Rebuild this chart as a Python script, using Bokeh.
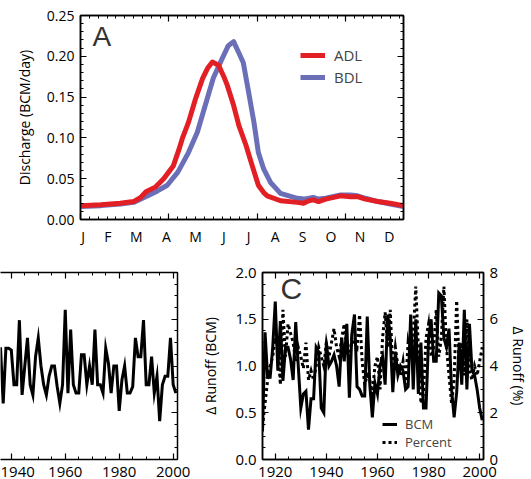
from bokeh.plotting import figure
from bokeh.models import (LinearAxis, Range1d, FixedTicker, SingleIntervalTicker,
                          Legend, LegendItem, Label, NumeralTickFormatter)
from bokeh.layouts import column, row
from bokeh.embed import file_html
from bokeh.resources import INLINE

FONT = "Open Sans"

# ---------------- Panel A data: mean daily discharge (BCM/day) ----------------
adl_day = [0, 23, 45, 60, 68, 74, 85, 94, 105, 111, 115, 122, 130, 138, 144, 149,
           156, 162, 166, 173, 179, 187, 194, 201, 207, 211, 226, 245, 252, 258,
           263, 269, 277, 294, 305, 313, 322, 336, 350, 365]
adl_q = [0.017, 0.018, 0.020, 0.022, 0.027, 0.034, 0.040, 0.050, 0.066, 0.085,
         0.099, 0.119, 0.148, 0.173, 0.186, 0.193, 0.189, 0.175, 0.164, 0.140,
         0.115, 0.091, 0.066, 0.042, 0.033, 0.029, 0.023, 0.021, 0.020, 0.023,
         0.024, 0.022, 0.025, 0.029, 0.028, 0.028, 0.025, 0.022, 0.020, 0.017]
bdl_day = [0, 23, 45, 60, 76, 87, 98, 110, 122, 132, 141, 150, 160, 167, 173, 179,
           184, 190, 196, 201, 207, 215, 226, 245, 252, 258, 263, 269, 277, 294,
           305, 313, 322, 336, 350, 365]
bdl_q = [0.016, 0.017, 0.019, 0.021, 0.029, 0.035, 0.042, 0.058, 0.082, 0.107,
         0.140, 0.173, 0.197, 0.213, 0.218, 0.204, 0.192, 0.156, 0.119, 0.082,
         0.062, 0.045, 0.032, 0.026, 0.025, 0.026, 0.027, 0.025, 0.026, 0.030,
         0.030, 0.029, 0.026, 0.022, 0.019, 0.016]
month_labels = ["J", "F", "M", "A", "M", "J", "J", "A", "S", "O", "N", "D"]
month_pos = [3, 31, 63, 97, 130, 162, 190, 220, 251, 283, 316, 349]

# ---------------- Panel B data ----------------
b_years = list(range(1936, 2002))
b_vals = [1.2, 0.6, 1.19, 1.19, 1.17, 0.8, 0.8, 1.49, 0.69, 1.0,
          1.3, 0.8, 0.69, 1.1, 1.3, 1.0, 0.8, 0.69, 0.89, 1.0,
          1.0, 0.78, 0.6, 0.8, 1.6, 0.71, 1.39, 0.8, 0.71, 0.71,
          1.12, 1.12, 0.8, 1.0, 0.8, 1.39, 0.8, 0.8, 0.71, 1.19,
          1.03, 0.71, 1.0, 1.0, 0.52, 0.85, 1.0, 0.71, 0.71, 0.78,
          1.3, 1.1, 1.1, 1.49, 0.8, 0.8, 1.1, 0.71, 0.89, 0.41,
          0.8, 0.89, 0.89, 1.3, 0.8, 0.71]

# ---------------- Panel C data ----------------
c_years = list(range(1915, 2002))
c_bcm = [0.3, 1.36, 0.88, 0.88, 1.2, 1.69, 0.95, 1.48, 0.84, 1.2,
         1.2, 1.07, 0.85, 1.47, 1.0, 0.55, 0.7, 0.73, 0.32, 0.65,
         0.65, 1.2, 1.15, 0.55, 0.5, 1.25, 1.0, 1.05, 1.12, 1.0,
         0.78, 1.3, 1.05, 1.45, 0.66, 1.35, 1.55, 0.78, 0.75, 0.68,
         0.68, 1.53, 0.8, 0.45, 0.82, 0.7, 1.0, 1.1, 0.8, 1.55,
         1.3, 0.72, 1.15, 0.9, 1.0, 0.95, 0.75, 0.78, 1.55, 0.75,
         1.5, 0.7, 1.25, 0.55, 0.55, 1.3, 1.5, 1.05, 1.05, 1.78,
         1.75, 1.3, 1.2, 1.4, 0.75, 0.45, 0.72, 1.25, 0.8, 1.6,
         0.75, 1.45, 0.95, 0.9, 0.75, 0.55, 0.42]
c_pct = [1.4, 2.4, 3.4, 4.0, 4.4, 5.2, 4.8, 3.2, 6.4, 4.4,
         5.8, 5.4, 5.0, 4.2, 4.8, 4.4, 3.9, 5.0, 3.4, 3.8,
         3.4, 4.0, 4.8, 4.4, 4.0, 5.0, 4.4, 5.0, 5.6, 4.8,
         4.4, 5.2, 5.8, 4.8, 4.4, 5.2, 5.0, 4.8, 6.2, 4.2,
         3.2, 3.6, 3.4, 2.8, 4.0, 4.4, 3.0, 5.2, 6.3, 4.8,
         6.4, 3.8, 4.8, 4.0, 3.6, 4.2, 3.2, 5.0, 4.4, 5.4,
         7.4, 4.8, 2.4, 2.8, 5.2, 5.8, 4.4, 4.8, 6.4, 4.4,
         5.2, 7.4, 4.8, 3.6, 2.4, 3.4, 6.8, 4.0, 5.0, 3.6,
         6.0, 3.8, 3.4, 4.0, 3.6, 4.2, 4.8]

RED = "#e31f26"
BLUE = "#6b6fb7"


def style_axis(ax, size="14px", labels=True):
    ax.axis_line_width = 1.5
    ax.axis_line_color = "black"
    ax.major_tick_in = 6
    ax.major_tick_out = 0
    ax.minor_tick_in = 3
    ax.minor_tick_out = 0
    ax.major_tick_line_width = 1.2
    ax.minor_tick_line_width = 1
    ax.major_tick_line_color = "black"
    ax.minor_tick_line_color = "black"
    ax.major_label_text_font = FONT
    ax.axis_label_text_font = FONT
    ax.axis_label_text_font_style = "normal"
    ax.axis_label_text_color = "black"
    ax.axis_label_text_font_size = size
    if labels:
        ax.major_label_text_color = "black"
        ax.major_label_text_font_size = size
        ax.major_label_standoff = 6
    else:
        ax.major_label_text_color = None
        ax.major_label_text_font_size = "0px"
        ax.major_label_standoff = 0


# ---------------- Panel A ----------------
pA = figure(width=423, height=255, x_range=Range1d(0, 365), y_range=Range1d(0, 0.25),
            output_backend="svg", toolbar_location=None,
            x_axis_type=None, y_axis_type=None,
            min_border_left=80, min_border_right=20, min_border_top=15, min_border_bottom=36)
pA.grid.visible = False
pA.outline_line_color = "black"
pA.outline_line_width = 1.5

yt = SingleIntervalTicker(interval=0.05, num_minor_ticks=5)
xt = SingleIntervalTicker(interval=100, num_minor_ticks=10)

axL = LinearAxis(ticker=yt, formatter=NumeralTickFormatter(format="0.00"),
                 axis_label="Discharge (BCM/day)")
style_axis(axL)
axL.axis_label_standoff = 10
pA.add_layout(axL, "left")
axR = LinearAxis(ticker=yt)
style_axis(axR, labels=False)
pA.add_layout(axR, "right")
axT = LinearAxis(ticker=xt)
style_axis(axT, labels=False)
pA.add_layout(axT, "above")
axB = LinearAxis(ticker=xt)
style_axis(axB, labels=False)
pA.add_layout(axB, "below")
axM = LinearAxis(ticker=FixedTicker(ticks=month_pos),
                 major_label_overrides={p: l for p, l in zip(month_pos, month_labels)})
style_axis(axM)
axM.axis_line_color = None
axM.major_tick_in = 0
axM.minor_tick_in = 0
axM.major_label_standoff = 7
pA.add_layout(axM, "below")

blue_r = pA.line(bdl_day, bdl_q, line_color=BLUE, line_width=5, line_join="round")
red_r = pA.line(adl_day, adl_q, line_color=RED, line_width=5, line_join="round")

legA = Legend(items=[LegendItem(label="ADL", renderers=[red_r]),
                     LegendItem(label="BDL", renderers=[blue_r])],
              location=(220, 132), background_fill_alpha=0, border_line_alpha=0,
              padding=0, margin=0, spacing=2, glyph_width=25, glyph_height=20,
              label_height=20, label_standoff=9,
              label_text_font=FONT, label_text_font_size="15px")
pA.add_layout(legA)
pA.add_layout(Label(x=12, y=183, x_units="screen", y_units="screen", text="A",
                    text_font="Liberation Sans", text_font_size="28px",
                    text_color="#333333", text_baseline="alphabetic"))

# ---------------- Panel B ----------------
pB = figure(width=198, height=224, x_range=Range1d(1936.0, 2001.6), y_range=Range1d(0, 2),
            output_backend="svg", toolbar_location=None,
            x_axis_type=None, y_axis_type=None,
            min_border_left=0, min_border_right=21, min_border_top=17, min_border_bottom=19)
pB.grid.visible = False
pB.outline_line_color = None
bt = SingleIntervalTicker(interval=20, num_minor_ticks=4)
byt = SingleIntervalTicker(interval=0.5, num_minor_ticks=4)
bB = LinearAxis(ticker=bt)
style_axis(bB, size="15px")
bB.major_label_standoff = 7
pB.add_layout(bB, "below")
bT = LinearAxis(ticker=bt)
style_axis(bT, labels=False)
pB.add_layout(bT, "above")
bR = LinearAxis(ticker=byt)
style_axis(bR, labels=False)
pB.add_layout(bR, "right")
pB.line(b_years, b_vals, line_color="black", line_width=3, line_join="miter")

# ---------------- Panel C ----------------
pC = figure(width=333, height=224, x_range=Range1d(1915, 2001.5), y_range=Range1d(0, 2),
            output_backend="svg", toolbar_location=None,
            x_axis_type=None, y_axis_type=None,
            min_border_left=60, min_border_right=48, min_border_top=14, min_border_bottom=19)
pC.extra_y_ranges = {"pct": Range1d(0, 8)}
pC.grid.visible = False
pC.outline_line_color = "black"
pC.outline_line_width = 1.5
ct = SingleIntervalTicker(interval=20, num_minor_ticks=4)
cB = LinearAxis(ticker=ct)
style_axis(cB, size="15px")
cB.major_label_standoff = 7
pC.add_layout(cB, "below")
cT = LinearAxis(ticker=ct)
style_axis(cT, labels=False)
pC.add_layout(cT, "above")
cL = LinearAxis(ticker=SingleIntervalTicker(interval=0.5, num_minor_ticks=4),
                formatter=NumeralTickFormatter(format="0.0"),
                axis_label="\u0394 Runoff (BCM)")
style_axis(cL, size="15px")
cL.axis_label_text_font_size = "14px"
cL.axis_label_standoff = 12
pC.add_layout(cL, "left")
cR = LinearAxis(y_range_name="pct", ticker=SingleIntervalTicker(interval=2, num_minor_ticks=4),
                axis_label="\u0394 Runoff (%)")
style_axis(cR, size="15px")
cR.axis_label_text_font_size = "14px"
cR.axis_label_standoff = 8
pC.add_layout(cR, "right")

pct_r = pC.line(c_years, c_pct, y_range_name="pct", line_color="black", line_width=3,
                line_dash="3 3", line_join="miter")
bcm_r = pC.line(c_years, c_bcm, line_color="black", line_width=3, line_join="miter")

for item_label, rend, ly in (("BCM", bcm_r, 26), ("Percent", pct_r, 8)):
    pC.add_layout(Legend(items=[LegendItem(label=item_label, renderers=[rend])],
                         location=(120, ly), background_fill_alpha=0, border_line_alpha=0,
                         padding=0, margin=0, spacing=0, glyph_width=15, glyph_height=12,
                         label_height=12, label_standoff=8,
                         label_text_font=FONT, label_text_font_size="13px"))
pC.add_layout(Label(x=18, y=171, x_units="screen", y_units="screen", text="C",
                    text_font="Liberation Sans", text_font_size="30px",
                    text_color="#333333", text_baseline="alphabetic"))

layout = column(pA, row(pB, pC))
open("out.html", "w").write(file_html(layout, INLINE))
